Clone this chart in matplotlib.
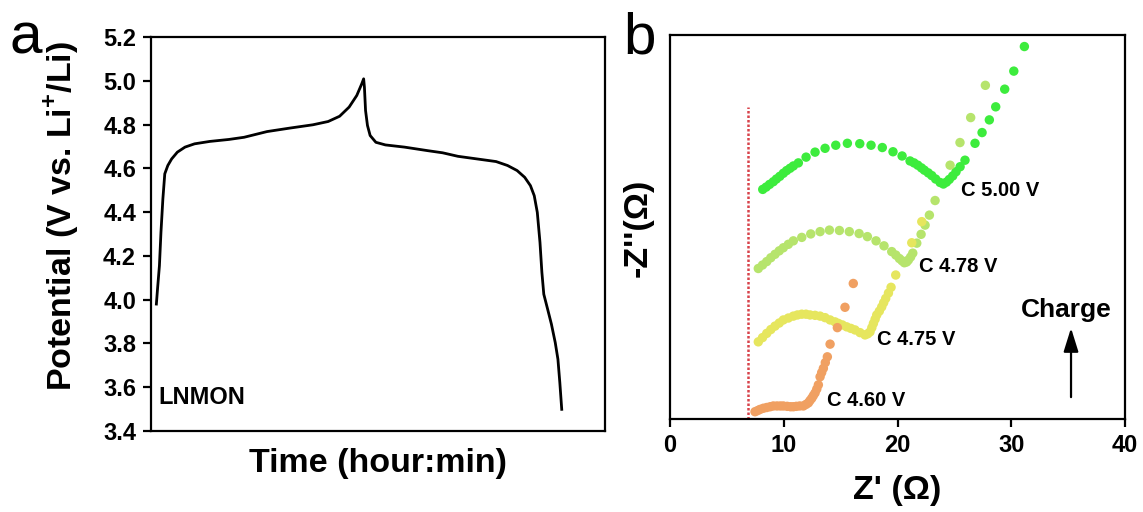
import numpy as np
import matplotlib.pyplot as plt

plt.rcParams['font.family'] = ['Liberation Sans', 'DejaVu Sans']
plt.rcParams['font.weight'] = 'bold'
plt.rcParams['mathtext.fontset'] = 'custom'
plt.rcParams['mathtext.rm'] = 'Liberation Sans'
plt.rcParams['mathtext.bf'] = 'Liberation Sans:bold'

# (a) charge/discharge profile, time in arbitrary units
t = [1.26, 1.51, 1.93, 2.27, 2.69, 3.11, 3.78, 4.62, 5.88, 7.56, 9.66, 13.02,
     17.22, 20.58, 25.62, 30.66, 35.71, 39.07, 41.59, 43.69, 45.37, 46.46,
     46.88, 47.05, 47.30, 47.72, 48.31, 49.57, 51.67, 55.87, 60.91, 64.27,
     67.63, 71.83, 76.03, 78.55, 80.65, 82.33, 83.59, 84.43, 85.10, 85.69,
     86.11, 86.53, 87.37, 88.21, 89.05, 89.64, 90.06, 90.48]
volt = [3.980, 4.048, 4.155, 4.308, 4.460, 4.575, 4.613, 4.643, 4.674, 4.697,
        4.712, 4.723, 4.732, 4.742, 4.768, 4.784, 4.799, 4.814, 4.838, 4.880,
        4.933, 4.986, 5.009, 4.971, 4.864, 4.796, 4.750, 4.719, 4.707, 4.697,
        4.681, 4.671, 4.655, 4.643, 4.631, 4.613, 4.590, 4.559, 4.521, 4.475,
        4.399, 4.262, 4.125, 4.025, 3.957, 3.888, 3.804, 3.728, 3.621, 3.499]
volt_ticks = [3.4, 3.6, 3.8, 4.0, 4.2, 4.4, 4.6, 4.8, 5.0, 5.2]

# (b) Nyquist plots, -Z'' in arbitrary units (offset per state of charge)
zr_500 = [8.15, 8.45, 8.75, 9.08, 9.35, 9.65, 9.96, 10.25, 10.55, 10.84,
          11.28, 11.96, 12.75, 13.63, 14.57, 15.59, 16.68, 17.67, 18.66, 19.60,
          20.40, 21.10, 21.45, 21.78, 22.1, 22.36, 22.7, 23.01, 23.35, 23.74,
          24.03, 24.3, 24.55, 24.85, 25.14, 25.5, 25.93, 26.81, 27.43, 28.07,
          28.63, 29.42, 30.22, 31.15]
zi_500 = [59.8, 60.4, 61.1, 61.8, 62.5, 63.2, 64.0, 64.7, 65.3, 65.9,
          66.7, 68.2, 69.5, 70.5, 71.3, 71.8, 71.7, 71.3, 70.7, 69.6,
          68.5, 67.2, 66.7, 66.1, 65.4, 64.8, 64.1, 63.4, 62.5, 61.6,
          61.2, 61.7, 62.4, 63.3, 64.4, 65.7, 67.4, 71.8, 74.6, 77.9,
          81.3, 85.9, 90.6, 97.0]

zr_478 = [7.76, 8.13, 8.50, 8.86, 9.23, 9.6, 9.96, 10.4, 10.84, 11.58,
          12.37, 13.19, 14.01, 14.89, 15.76, 16.62, 17.35, 18.11, 18.81, 19.49,
          19.85, 20.16, 20.4, 20.60, 20.8, 20.95, 21.15, 21.34, 21.69, 22.07,
          22.42, 22.80, 23.30, 24.62, 25.49, 26.43, 27.72]
zi_478 = [39.2, 40.1, 41.0, 42.0, 42.9, 43.8, 44.6, 45.5, 46.4, 47.3,
          48.2, 48.8, 49.2, 49.1, 48.8, 48.3, 47.5, 46.4, 45.1, 43.6,
          42.7, 41.8, 41.2, 40.7, 40.9, 41.4, 42.2, 43.2, 45.8, 48.1,
          50.5, 53.1, 56.9, 66.1, 72.0, 78.5, 86.9]

zr_475 = [7.76, 8.13, 8.50, 8.86, 9.23, 9.6, 9.96, 10.4, 10.84, 11.2,
          11.58, 11.95, 12.31, 12.75, 13.19, 13.63, 14.07, 14.5, 14.8, 15.15,
          15.53, 15.9, 16.26, 16.7, 17.14, 17.38, 17.58, 17.74, 17.88, 18.03,
          18.17, 18.4, 18.61, 18.78, 18.96, 19.2, 19.43, 19.84, 21.25, 22.13]
zi_475 = [20.1, 21.2, 22.3, 23.3, 24.2, 25.0, 25.8, 26.3, 26.8, 27.1,
          27.3, 27.3, 27.1, 27.0, 26.8, 26.4, 25.8, 25.3, 24.9, 24.5,
          24.0, 23.6, 23.2, 22.5, 21.9, 22.2, 22.7, 23.8, 24.9, 26.0,
          27.1, 28.1, 29.2, 30.3, 31.4, 32.8, 34.3, 37.5, 45.9, 51.4]

zr_460 = [7.47, 7.7, 7.91, 8.2, 8.5, 8.8, 9.08, 9.4, 9.7, 9.96,
          10.3, 10.6, 10.84, 11.1, 11.4, 11.72, 11.95, 12.16, 12.3, 12.46,
          12.6, 12.75, 12.9, 13.04, 13.19, 13.33, 13.48, 13.65, 13.83, 14.07,
          14.71, 15.38, 16.11]
zi_460 = [1.9, 2.2, 2.5, 2.8, 3.0, 3.2, 3.4, 3.4, 3.4, 3.4,
          3.3, 3.2, 3.2, 3.3, 3.4, 3.4, 3.8, 4.2, 4.8, 5.4,
          6.1, 6.8, 7.8, 8.9, 11.0, 12.1, 13.2, 14.7, 16.2, 19.5,
          23.8, 29.1, 35.3]

labels = ['C 5.00 V', 'C 4.78 V', 'C 4.75 V', 'C 4.60 V']
colors = ['#3dec3d', '#b6e46c', '#e6e65e', '#f0a062']
label_pos = [(25.58, 59.6), (21.89, 39.8), (18.20, 20.6), (13.77, 4.7)]
ohmic_x = 6.86
ohmic_top = 81.3

fig = plt.figure(figsize=(11.43, 5.12), dpi=100)
ax1 = fig.add_axes([0.1318, 0.1582, 0.3975, 0.7695])
ax2 = fig.add_axes([0.5862, 0.1816, 0.3981, 0.75])

for ax in (ax1, ax2):
    for s in ax.spines.values():
        s.set_linewidth(1.6)

# --- panel a
ax1.plot(t, volt, color='black', lw=2)
ax1.set_xlim(0, 100)
ax1.set_ylim(3.4, 5.2)
ax1.set_yticks(volt_ticks)
ax1.set_yticklabels(['%.1f' % v for v in volt_ticks])
ax1.set_xticks([])
ax1.tick_params(axis='y', direction='out', length=5.5, width=1.6,
                labelsize=17, pad=5)
ax1.set_ylabel('Potential (V vs. Li$^{\\mathbf{+}}$/Li)', fontsize=24.5,
               fontweight='bold')
ax1.yaxis.set_label_coords(-0.153, 0.546)
ax1.set_xlabel('Time (hour:min)', fontsize=24.5, fontweight='bold')
ax1.xaxis.set_label_coords(0.5, -0.043)
ax1.text(1.6, 3.551, 'LNMON', fontsize=17, fontweight='bold', va='center')

# --- panel b
series = [(zr_500, zi_500), (zr_478, zi_478), (zr_475, zi_475), (zr_460, zi_460)]
for (zr, zi), c in zip(series, colors):
    ax2.scatter(zr, zi, s=46, color=c, edgecolors='none', zorder=3)
for lab, (lx, ly) in zip(labels, label_pos):
    ax2.text(lx, ly, lab, fontsize=14.5, fontweight='bold', va='center')

ax2.vlines(ohmic_x, 0, ohmic_top, colors='#d8434b', linestyles=(0, (1, 0.8)), lw=1.8)
ax2.annotate('', xy=(35.25, 23.7), xytext=(35.25, 5.7),
             arrowprops=dict(arrowstyle='-|>,head_length=0.8,head_width=0.25',
                             color='black', lw=1.6,
                             mutation_scale=18, shrinkA=0, shrinkB=0))
ax2.text(34.8, 28.4, 'Charge', fontsize=19, fontweight='bold',
         ha='center', va='center')

ax2.set_xlim(0, 40)
ax2.set_ylim(0, 100)
ax2.set_xticks([0, 10, 20, 30, 40])
ax2.set_yticks([])
ax2.tick_params(axis='x', direction='out', length=5.5, width=1.6,
                labelsize=17, pad=5)
ax2.set_xlabel("Z' (Ω)", fontsize=24.5, fontweight='bold')
ax2.xaxis.set_label_coords(0.5, -0.145)
ax2.set_ylabel("-Z''(Ω)", fontsize=24.5, fontweight='bold')
ax2.yaxis.set_label_coords(-0.035, 0.497)

fig.text(10 / 1143, 1 - 53 / 512, 'a', fontsize=42, fontweight='normal',
         va='baseline', ha='left')
fig.text(623 / 1143, 1 - 53 / 512, 'b', fontsize=42, fontweight='normal',
         va='baseline', ha='left')

fig.savefig('out.png', dpi=100)
